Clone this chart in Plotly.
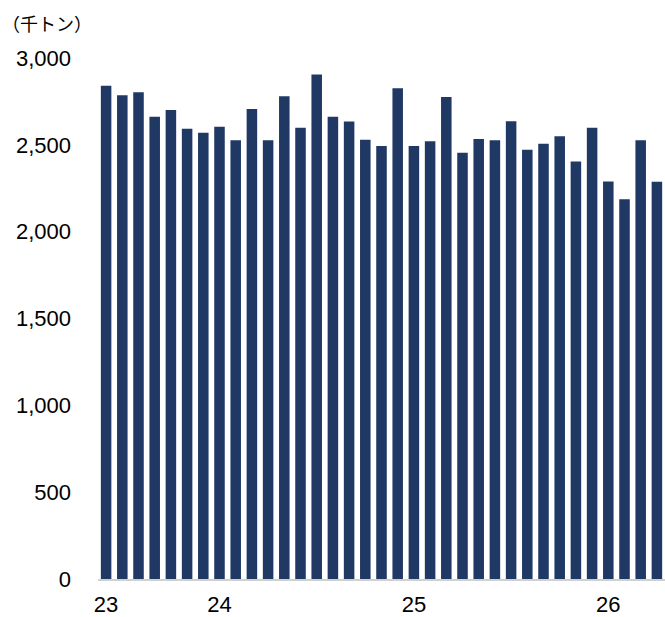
import plotly.graph_objects as go

# Monthly data, Jun 2023 – Apr 2026 (thousand tonnes)
months = [f"{y}-{m:02d}" for y, m in
          [(2023, m) for m in range(6, 13)] +
          [(2024, m) for m in range(1, 13)] +
          [(2025, m) for m in range(1, 13)] +
          [(2026, m) for m in range(1, 5)]]
values = [2840, 2786, 2803, 2661, 2700, 2592, 2569, 2604, 2527, 2707,
          2527, 2780, 2598, 2905, 2661, 2634, 2529, 2494, 2826, 2494,
          2521, 2776, 2454, 2533, 2527, 2636, 2471, 2506, 2550, 2404,
          2598, 2289, 2187, 2527, 2287]
tick_months = ["2023-06", "2024-01", "2025-01", "2026-01"]
tick_labels = ["23", "24", "25", "26"]
unit_label = "（千トン）"

BAR = "#203864"
FONT = "Liberation Sans, Arial, sans-serif"

fig = go.Figure(go.Bar(
    x=months, y=values,
    marker=dict(color=BAR, line=dict(width=0)),
    hoverinfo="x+y",
))

fig.update_layout(
    width=665, height=617,
    margin=dict(l=98, r=0, t=58, b=38, autoexpand=False),
    paper_bgcolor="white", plot_bgcolor="white",
    bargap=0.35,
    showlegend=False,
    font=dict(family=FONT, size=22, color="#000000"),
)
fig.update_xaxes(
    type="category",
    tickmode="array", tickvals=tick_months, ticktext=tick_labels,
    showgrid=False, zeroline=False,
    showline=True, linecolor="#d0d0d0", linewidth=2,
    ticks="outside", ticklen=5, tickcolor="rgba(0,0,0,0)",
    tickfont=dict(family=FONT, size=22),
    range=[-0.5, len(months) - 0.5],
    automargin=False,
)
fig.update_yaxes(
    range=[0, 3000], dtick=500, tickformat=",d",
    showgrid=False, zeroline=False, showline=False,
    ticks="", ticklabelstandoff=26,
    tickfont=dict(family=FONT, size=22),
    automargin=False,
)
fig.add_annotation(
    text=unit_label, xref="paper", yref="paper",
    x=-98 / 567, y=1.067, xanchor="left", yanchor="middle",
    showarrow=False,
    font=dict(family="Noto Sans CJK JP, sans-serif", size=18, color="#000000"),
)

fig.write_html(
    "out.html",
    config={"displayModeBar": False},
    post_script="document.body.style.margin='0';document.body.style.overflow='hidden';",
)
